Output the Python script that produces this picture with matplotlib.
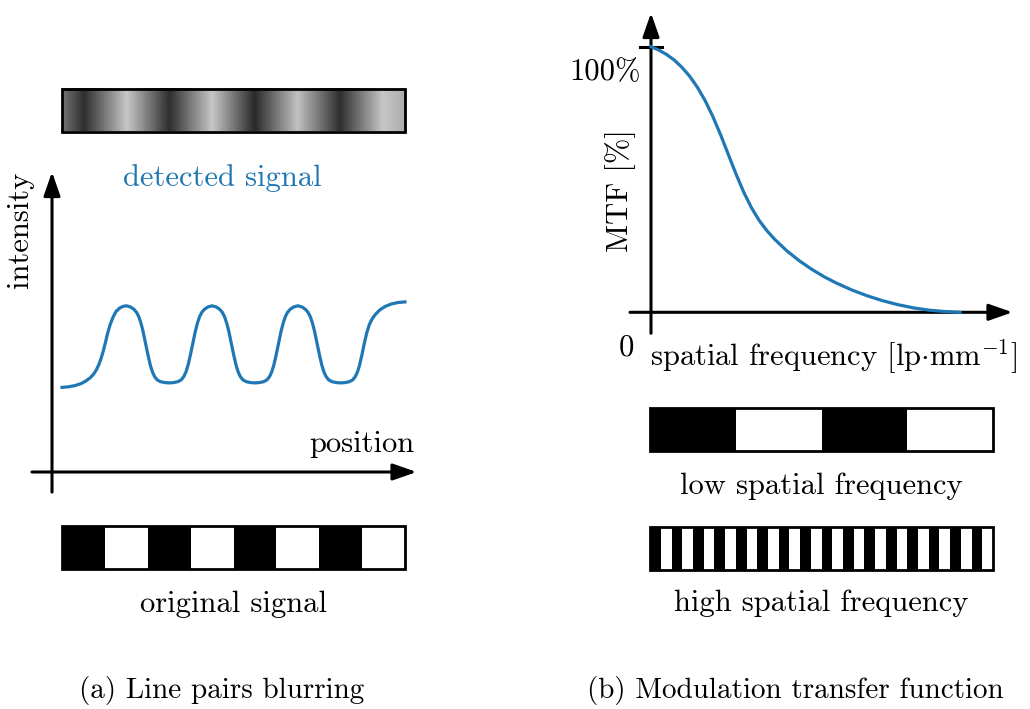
import numpy as np
import matplotlib
matplotlib.use('Agg')
import matplotlib.pyplot as plt
from matplotlib.patches import Rectangle
from matplotlib.colors import LinearSegmentedColormap

plt.rcParams['font.family'] = 'cmr10'
plt.rcParams['mathtext.fontset'] = 'cm'
plt.rcParams['axes.unicode_minus'] = False

# detected signal (position in bar units, intensity)
pos = [0.0, 0.15, 0.3, 0.45, 0.55, 0.65, 0.73, 0.8, 0.86, 0.91, 0.96, 1.01, 1.06, 1.12, 1.19, 1.26, 1.34, 1.42,
       1.5, 1.6, 1.68, 1.74, 1.79, 1.84, 1.89, 1.95, 2.01, 2.06, 2.11, 2.16, 2.22, 2.3, 2.4,
       2.5, 2.6, 2.7, 2.78, 2.84, 2.89, 2.94, 2.99, 3.05, 3.11, 3.16, 3.21, 3.26, 3.32, 3.4,
       3.5, 3.6, 3.68, 3.74, 3.79, 3.84, 3.89, 3.95, 4.01, 4.06, 4.11, 4.16, 4.22, 4.3, 4.4,
       4.5, 4.6, 4.7, 4.78, 4.84, 4.89, 4.94, 4.99, 5.05, 5.11, 5.16, 5.21, 5.26, 5.32, 5.4,
       5.5, 5.6, 5.68, 5.74, 5.79, 5.84, 5.89, 5.95, 6.01, 6.06, 6.11, 6.16, 6.22, 6.3, 6.4,
       6.5, 6.6, 6.7, 6.78, 6.84, 6.89, 6.94, 6.99, 7.05, 7.11, 7.17, 7.24, 7.32, 7.42, 7.54, 7.68, 7.84, 8.0]
intensity = [0.282, 0.284, 0.288, 0.295, 0.303, 0.313, 0.325, 0.34, 0.358, 0.378, 0.402, 0.43, 0.46, 0.49, 0.516, 0.535, 0.546, 0.552,
             0.554, 0.55, 0.542, 0.532, 0.518, 0.497, 0.469, 0.428, 0.387, 0.356, 0.333, 0.318, 0.307, 0.301, 0.298,
             0.297, 0.298, 0.301, 0.307, 0.318, 0.333, 0.356, 0.387, 0.428, 0.469, 0.497, 0.518, 0.532, 0.542, 0.55,
             0.554, 0.55, 0.542, 0.532, 0.518, 0.497, 0.469, 0.428, 0.387, 0.356, 0.333, 0.318, 0.307, 0.301, 0.298,
             0.297, 0.298, 0.301, 0.307, 0.318, 0.333, 0.356, 0.387, 0.428, 0.469, 0.497, 0.518, 0.532, 0.542, 0.55,
             0.554, 0.55, 0.542, 0.532, 0.518, 0.497, 0.469, 0.428, 0.387, 0.356, 0.333, 0.318, 0.307, 0.301, 0.298,
             0.297, 0.298, 0.301, 0.307, 0.318, 0.333, 0.356, 0.387, 0.428, 0.465, 0.492, 0.512, 0.527, 0.541, 0.552, 0.56, 0.565, 0.567]

# grey levels of the blurred bar
grad_pos = [0, 0.5, 1.5, 2.5, 3.5, 4.5, 5.5, 6.5, 7.5, 8]
grad_grey = [0.45, 0.18, 0.78, 0.18, 0.78, 0.16, 0.76, 0.18, 0.78, 0.68]

# line pairs in each bar
pairs_original = 4
pairs_low = 2
pairs_high = 16

# MTF curve
freq = [0, 0.25, 0.5, 0.75, 1.0, 1.25, 1.5, 1.75, 2.0, 2.25, 2.5, 2.75, 3.0, 3.25, 3.5, 3.75,
        4.0, 4.4, 4.8, 5.2, 5.6, 6.0, 6.5, 7.0, 7.5, 8.0, 8.5, 9.0, 9.5, 10]
mtf = [100, 98.75, 97.1, 95.0, 92.25, 88.9, 84.75, 79.75, 73.75, 66.9, 59.5, 52.1, 45.25, 39.4, 34.6, 30.75,
       27.5, 23.1, 19.4, 16.2, 13.4, 11.0, 8.4, 6.2, 4.35, 2.85, 1.65, 0.8, 0.3, 0]

blue = '#1f77b4'
fs = 22
W, H = 1030, 709


def arrow(ax, x0, y0, x1, y1):
    ax.annotate('', xy=(x1, y1), xytext=(x0, y0), annotation_clip=False,
                arrowprops=dict(arrowstyle='-|>,head_length=0.8,head_width=0.28',
                                mutation_scale=18, lw=2.2, color='black',
                                shrinkA=0, shrinkB=0))


def bar(ax, x0, x1, y0, y1, pairs):
    w = (x1 - x0) / (2 * pairs)
    lefts = x0 + 2 * w * np.arange(pairs)
    ax.bar(lefts, y1 - y0, width=w, bottom=y0, align='edge', color='black',
           linewidth=0, clip_on=False)
    ax.add_patch(Rectangle((x0, y0), x1 - x0, y1 - y0, fill=False, ec='black',
                           lw=2, clip_on=False, zorder=3))


fig = plt.figure(figsize=(W / 100, H / 100), dpi=100)

# (a) left panel: x 0..8 -> px 62..405, y 0..1 -> px 472..172
ax1 = fig.add_axes([62 / W, 1 - 472 / H, 343 / W, 300 / H])
ax1.axis('off')

cmap = LinearSegmentedColormap.from_list(
    'blur', [(p / 8, (g, g, g)) for p, g in zip(grad_pos, grad_grey)])
ax1.imshow(np.linspace(0, 1, 600)[None, :], cmap=cmap, aspect='auto',
           extent=[0, 8, 1.135, 1.278], clip_on=False, interpolation='bilinear')
ax1.add_patch(Rectangle((0, 1.135), 8, 0.143, fill=False, ec='black', lw=2,
                        clip_on=False, zorder=3))

ax1.plot(pos, intensity, color=blue, lw=2.3, clip_on=False)
arrow(ax1, -0.233, -0.067, -0.233, 1.0)
arrow(ax1, -0.7, 0, 8.27, 0)

ax1.text(3.73, 0.953, 'detected signal', color=blue, fontsize=fs, ha='center', va='baseline')
ax1.text(-0.98, 0.807, 'intensity', rotation=90, fontsize=fs, ha='center', va='center')
ax1.text(8.23, 0.067, 'position', fontsize=fs, ha='right', va='baseline')

bar(ax1, 0, 8, -0.323, -0.18, pairs_original)
ax1.text(4.0, -0.467, 'original signal', fontsize=fs, ha='center', va='baseline')
ax1.text(3.73, -0.752, '(a) Line pairs blurring', fontsize=fs - 1, ha='center', va='baseline')

ax1.set_xlim(0, 8)
ax1.set_ylim(0, 1)

# (b) right panel: f 0..10 -> px 651..960, MTF 0..100 -> px 312.3..46.7
ax2 = fig.add_axes([651 / W, 1 - 312.3 / H, 309 / W, 265.6 / H])
ax2.axis('off')

arrow(ax2, 0, -7.9, 0, 112.7)
arrow(ax2, -0.68, 0, 11.7, 0)
ax2.plot([-0.36, 0.35], [100, 100], color='black', lw=2.2, clip_on=False)
ax2.plot(freq, mtf, color=blue, lw=2.3, clip_on=False, zorder=4)

ax2.text(-0.32, 87.4, '100%', fontsize=fs, ha='right', va='baseline')
ax2.text(-0.81, -16.1, '0', fontsize=fs, ha='center', va='baseline')
ax2.text(-1.0, 45.7, 'MTF [%]', rotation=90, fontsize=fs, ha='center', va='center')
ax2.text(5.92, -20.2, r'spatial frequency [lp$\cdot$mm$^{-1}$]', fontsize=fs,
         ha='center', va='baseline')

bar(ax2, -0.03, 11.07, -52.2, -36.0, pairs_low)
ax2.text(5.5, -68.4, 'low spatial frequency', fontsize=fs, ha='center', va='baseline')
bar(ax2, -0.03, 11.07, -97.0, -80.8, pairs_high)
ax2.text(5.5, -112.5, 'high spatial frequency', fontsize=fs, ha='center', va='baseline')
ax2.text(4.66, -145.2, '(b) Modulation transfer function', fontsize=fs - 1,
         ha='center', va='baseline')

ax2.set_xlim(0, 10)
ax2.set_ylim(0, 100)

fig.savefig('out.png', dpi=100)
